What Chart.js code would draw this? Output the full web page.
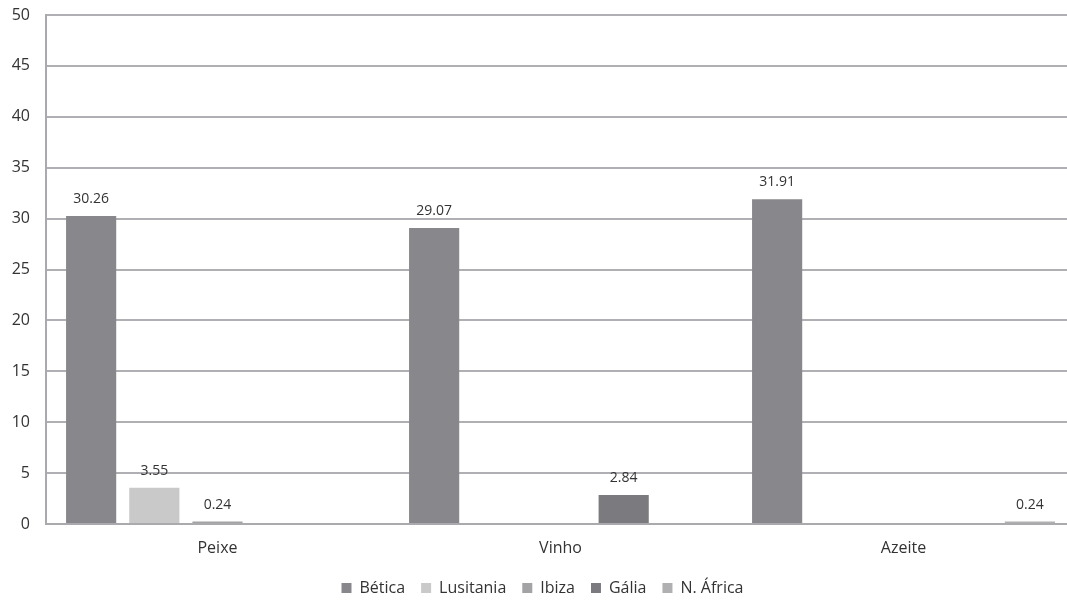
<!DOCTYPE html>
<html>
<head>
<meta charset="utf-8">
<script src="https://cdn.jsdelivr.net/npm/chart.js@4/dist/chart.umd.min.js"></script>
<style>
html,body{margin:0;padding:0;background:#fff;overflow:hidden;}
#wrap{width:1067px;height:600px;position:relative;overflow:hidden;}
</style>
</head>
<body>
<div id="wrap"><canvas id="c" width="1075" height="606"></canvas></div>
<script>
const categories = ["Peixe", "Vinho", "Azeite"];
const seriesNames = ["Bética", "Lusitania", "Ibiza", "Gália", "N. África"];
const betica = [30.26, 29.07, 31.91];
const lusitania = [3.55, null, null];
const ibiza = [0.24, null, null];
const galia = [null, 2.84, null];
const nAfrica = [null, null, 0.24];
const yTicks = [0, 5, 10, 15, 20, 25, 30, 35, 40, 45, 50];

const colors = ["#88888c", "#c9c9c9", "#a3a3a6", "#7b7b7f", "#b0b0b2"];
const allSeries = [betica, lusitania, ibiza, galia, nAfrica];
const FONT = '"Open Sans", sans-serif';

const valueLabels = {
  id: 'valueLabels',
  afterDatasetsDraw(chart) {
    const ctx = chart.ctx;
    ctx.save();
    ctx.font = '14px ' + FONT;
    ctx.fillStyle = '#333';
    ctx.textAlign = 'center';
    ctx.textBaseline = 'middle';
    chart.data.datasets.forEach((ds, i) => {
      const meta = chart.getDatasetMeta(i);
      meta.data.forEach((bar, j) => {
        const v = ds.data[j];
        if (v === null || v === undefined) return;
        ctx.fillText(v.toFixed(2), bar.x, bar.y - 17);
      });
    });
    ctx.restore();
  }
};

new Chart(document.getElementById('c'), {
  type: 'bar',
  data: {
    labels: categories,
    datasets: seriesNames.map((n, i) => ({
      label: n,
      data: allSeries[i],
      backgroundColor: colors[i],
      borderWidth: 0,
      barPercentage: 0.794,
      categoryPercentage: 0.921
    }))
  },
  options: {
    responsive: false,
    animation: false,
    devicePixelRatio: 1,
    layout: { padding: { left: 10, right: 0, top: 5, bottom: 0 } },
    plugins: {
      legend: {
        position: 'bottom',
        labels: {
          boxWidth: 10, boxHeight: 10, padding: 16,
          color: '#333',
          font: { family: FONT, size: 16 }
        }
      },
      tooltip: { enabled: false }
    },
    scales: {
      x: {
        grid: { display: false, drawTicks: false },
        border: { color: '#aaaaae', width: 2 },
        ticks: { color: '#333', font: { family: FONT, size: 16 }, padding: 15 },
        afterFit(axis) { axis.height = 40; }
      },
      y: {
        min: 0, max: 50,
        afterBuildTicks(axis) { axis.ticks = yTicks.map(v => ({ value: v })); },
        grid: { color: '#b0b0b4', lineWidth: 2, drawTicks: false },
        border: { color: '#aaaaae', width: 2 },
        ticks: { color: '#333', font: { family: FONT, size: 16 }, padding: 16 },
        afterFit(axis) { axis.width = 36; axis.paddingTop = 15; axis.paddingBottom = 0; }
      }
    }
  },
  plugins: [valueLabels]
});
</script>
</body>
</html>
